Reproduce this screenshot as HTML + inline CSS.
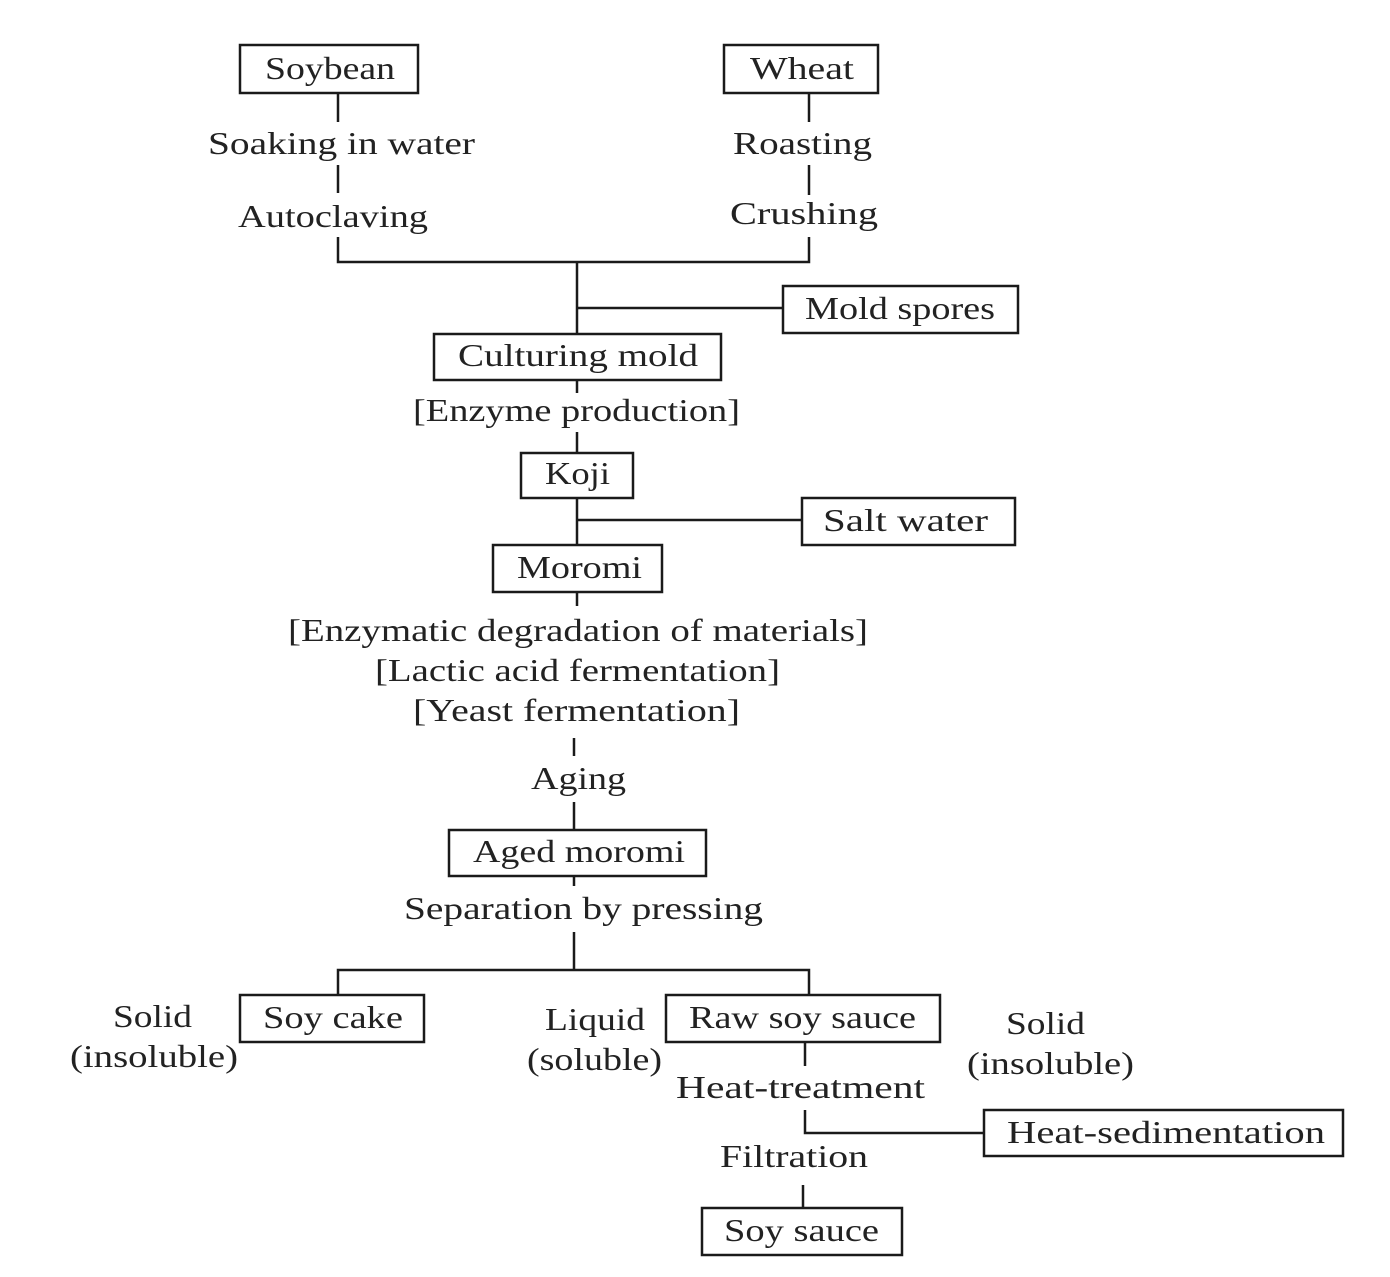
<!DOCTYPE html>
<html><head><meta charset="utf-8"><style>html,body{margin:0;padding:0;background:#fff}svg{display:block}</style></head>
<body>
<svg width="1390" height="1277" viewBox="0 0 1390 1277" xmlns="http://www.w3.org/2000/svg">
<g fill="none" stroke="#1a1a1a" stroke-width="2.5">
<rect x="240" y="45" width="178" height="48"/>
<rect x="724" y="45" width="154" height="48"/>
<rect x="783" y="286" width="235" height="47"/>
<rect x="434" y="334" width="287" height="46"/>
<rect x="521" y="453" width="112" height="45"/>
<rect x="802" y="498" width="213" height="47"/>
<rect x="493" y="545" width="169" height="47"/>
<rect x="449" y="830" width="257" height="46"/>
<rect x="240" y="995" width="184" height="47"/>
<rect x="666" y="995" width="274" height="47"/>
<rect x="984" y="1110" width="359" height="46"/>
<rect x="702" y="1208" width="200" height="47"/>
<path d="M338 93V122M338 165V193M338 237V262H809V237M809 165V195M809 93V122"/>
<path d="M577 262V334M577 308H783"/>
<path d="M577 380V393M577 432V453M577 498V545M577 520H802M577 592V606M574 738V756M574 802V830M574 876V886M574 932V970"/>
<path d="M338 995V970H809V995"/>
<path d="M805 1042V1066M805 1110V1133H984M803 1185V1208"/>
</g>
<g font-family="Liberation Serif, serif" font-size="32" fill="#222" lengthAdjust="spacingAndGlyphs">
<text x="265" y="79" textLength="130" lengthAdjust="spacingAndGlyphs">Soybean</text>
<text x="750" y="79" textLength="104" lengthAdjust="spacingAndGlyphs">Wheat</text>
<text x="208" y="154" textLength="267" lengthAdjust="spacingAndGlyphs">Soaking in water</text>
<text x="238" y="227" textLength="190" lengthAdjust="spacingAndGlyphs">Autoclaving</text>
<text x="733" y="154" textLength="139" lengthAdjust="spacingAndGlyphs">Roasting</text>
<text x="730" y="224" textLength="148" lengthAdjust="spacingAndGlyphs">Crushing</text>
<text x="805" y="319" textLength="190" lengthAdjust="spacingAndGlyphs">Mold spores</text>
<text x="458" y="366" textLength="240" lengthAdjust="spacingAndGlyphs">Culturing mold</text>
<text x="413" y="421" textLength="327" lengthAdjust="spacingAndGlyphs">[Enzyme production]</text>
<text x="545" y="484" textLength="65" lengthAdjust="spacingAndGlyphs">Koji</text>
<text x="823" y="531" textLength="165" lengthAdjust="spacingAndGlyphs">Salt water</text>
<text x="517" y="578" textLength="125" lengthAdjust="spacingAndGlyphs">Moromi</text>
<text x="288" y="641" textLength="580" lengthAdjust="spacingAndGlyphs">[Enzymatic degradation of materials]</text>
<text x="375" y="681" textLength="405" lengthAdjust="spacingAndGlyphs">[Lactic acid  fermentation]</text>
<text x="413" y="721" textLength="327" lengthAdjust="spacingAndGlyphs">[Yeast fermentation]</text>
<text x="531" y="789" textLength="95" lengthAdjust="spacingAndGlyphs">Aging</text>
<text x="473" y="862" textLength="212" lengthAdjust="spacingAndGlyphs">Aged moromi</text>
<text x="404" y="919" textLength="359" lengthAdjust="spacingAndGlyphs">Separation by pressing</text>
<text x="113" y="1027" textLength="79" lengthAdjust="spacingAndGlyphs">Solid</text>
<text x="70" y="1067" textLength="168" lengthAdjust="spacingAndGlyphs">(insoluble)</text>
<text x="263" y="1028" textLength="140" lengthAdjust="spacingAndGlyphs">Soy cake</text>
<text x="545" y="1030" textLength="100" lengthAdjust="spacingAndGlyphs">Liquid</text>
<text x="527" y="1070" textLength="135" lengthAdjust="spacingAndGlyphs">(soluble)</text>
<text x="689" y="1028" textLength="227" lengthAdjust="spacingAndGlyphs">Raw soy sauce</text>
<text x="1006" y="1034" textLength="79" lengthAdjust="spacingAndGlyphs">Solid</text>
<text x="967" y="1074" textLength="167" lengthAdjust="spacingAndGlyphs">(insoluble)</text>
<text x="676" y="1098" textLength="249" lengthAdjust="spacingAndGlyphs">Heat-treatment</text>
<text x="1007" y="1143" textLength="318" lengthAdjust="spacingAndGlyphs">Heat-sedimentation</text>
<text x="720" y="1167" textLength="148" lengthAdjust="spacingAndGlyphs">Filtration</text>
<text x="724" y="1241" textLength="155" lengthAdjust="spacingAndGlyphs">Soy sauce</text>
</g>
</svg>
</body></html>
